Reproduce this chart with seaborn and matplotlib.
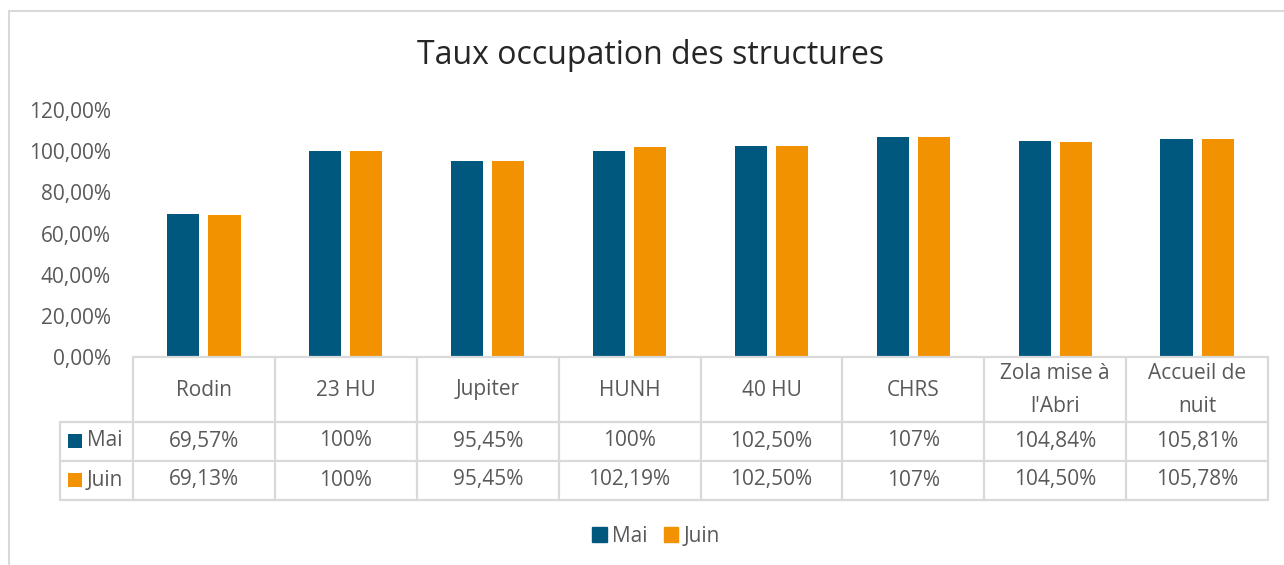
import matplotlib
matplotlib.use('Agg')
import matplotlib.pyplot as plt
import matplotlib.transforms as mtransforms
from matplotlib.patches import Rectangle, Patch
import pandas as pd
import seaborn as sns

# données
structures = ['Rodin', '23 HU', 'Jupiter', 'HUNH', '40 HU', 'CHRS',
              "Zola mise à\nl'Abri", 'Accueil de\nnuit']
mai = [69.57, 100, 95.45, 100, 102.50, 107, 104.84, 105.81]
juin = [69.13, 100, 95.45, 102.19, 102.50, 107, 104.50, 105.78]
series = ['Mai', 'Juin']
colors = ['#00587f', '#f39200']
yticks = [0, 20, 40, 60, 80, 100, 120]

sns.set_theme(style='white')
plt.rcParams['font.family'] = ['Open Sans', 'DejaVu Sans']
gris = '#595959'
trait = '#d9d9d9'
fs = 15


def fmt(v):
    # format Excel : 100% / 102,50%
    if float(v).is_integer():
        return f"{int(v)}%"
    return f"{v:.2f}".replace('.', ',') + '%'


W, H = 1284, 565
fig = plt.figure(figsize=(W / 100, H / 100), dpi=100)
ax = fig.add_axes([133 / W, 1 - 357 / H, 1135 / W, 247 / H])

df = pd.DataFrame({'structure': structures * 2,
                   'mois': ['Mai'] * len(mai) + ['Juin'] * len(juin),
                   'taux': mai + juin})
sns.barplot(data=df, x='structure', y='taux', hue='mois', palette=colors,
            width=0.58, gap=0.22, saturation=1, linewidth=0,
            legend=False, ax=ax)

ax.set_xlim(-0.5, len(structures) - 0.5)
ax.set_ylim(0, 120)
ax.set_yticks(yticks)
ax.set_yticklabels([f"{t},00%" for t in yticks])
ax.set_xticks([])
ax.set_xlabel('')
ax.set_ylabel('')
ax.tick_params(axis='y', length=0, pad=16, labelsize=fs, labelcolor=gris)
sns.despine(ax=ax, left=True, bottom=True)

# titre
fig.text(651 / W, 1 - 56 / H, 'Taux occupation des structures',
         ha='center', va='center', fontsize=23, color='#262626')

# tableau de données sous le graphique
def fy(y):
    return 1 - y / H

tr = mtransforms.blended_transform_factory(ax.transData, fig.transFigure)
n = len(structures)
lw = 1.6
ax.plot([-0.5, n - 0.5], [fy(357), fy(357)], transform=tr, color=trait, lw=lw, clip_on=False)
for y in [422, 461, 500]:
    ax.plot([-0.5, n - 0.5], [fy(y), fy(y)], transform=tr, color=trait, lw=lw, clip_on=False)
    fig.add_artist(plt.Line2D([60 / W, 133 / W], [fy(y), fy(y)], color=trait, lw=lw))
fig.add_artist(plt.Line2D([60 / W, 60 / W], [fy(422), fy(500)], color=trait, lw=lw))
for i in range(n + 1):
    ax.plot([i - 0.5, i - 0.5], [fy(357), fy(500)], transform=tr, color=trait, lw=lw, clip_on=False)

for i, nom in enumerate(structures):
    ax.text(i, fy(390), nom, transform=tr, ha='center', va='center',
            fontsize=fs, color=gris, linespacing=1.7)
    ax.text(i, fy(441), fmt(mai[i]), transform=tr, ha='center', va='center',
            fontsize=fs, color=gris)
    ax.text(i, fy(480), fmt(juin[i]), transform=tr, ha='center', va='center',
            fontsize=fs, color=gris)

for nom, c, y in zip(series, colors, [441, 480]):
    fig.add_artist(Rectangle((68 / W, fy(y + 7)), 14 / W, 14 / H,
                             transform=fig.transFigure, color=c, lw=0))
    fig.text(87 / W, fy(y), nom, ha='left', va='center', fontsize=fs, color=gris)

# légende
handles = [Patch(color=c, label=s) for s, c in zip(series, colors)]
fig.legend(handles=handles, loc='center', bbox_to_anchor=(656 / W, fy(536)),
           ncol=2, frameon=False, fontsize=fs, labelcolor=gris,
           handlelength=0.7, handleheight=0.7, handletextpad=0.25,
           columnspacing=0.8)

# cadre du graphique
fig.add_artist(Rectangle((9 / W, -0.1), 1.2, fy(11) + 0.1, transform=fig.transFigure,
                         fill=False, edgecolor=trait, lw=1.5))

plt.savefig('out.png', dpi=100)
